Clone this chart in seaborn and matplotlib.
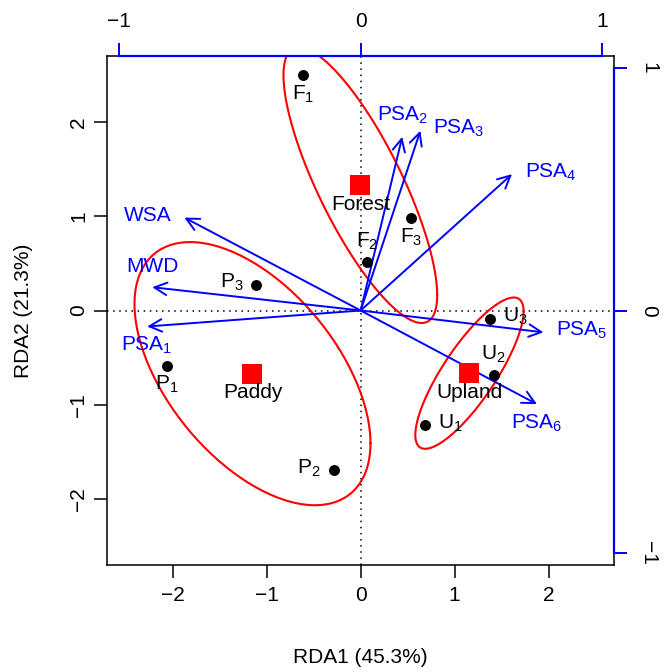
import numpy as np
import pandas as pd
import matplotlib
matplotlib.use("Agg")
import matplotlib.pyplot as plt
import seaborn as sns

# Site scores (RDA1, RDA2)
sites = ["F1", "F2", "F3", "P1", "P2", "P3", "U1", "U2", "U3"]
rda1 = [-0.613, 0.064, 0.539, -2.060, -0.284, -1.110, 0.688, 1.415, 1.372]
rda2 = [2.495, 0.516, 0.979, -0.586, -1.697, 0.273, -1.220, -0.689, -0.085]
land_use = ["Forest"] * 3 + ["Paddy"] * 3 + ["Upland"] * 3

# Biplot arrows (top / right axis units)
env_vars = ["PSA1", "PSA2", "PSA3", "PSA4", "PSA5", "PSA6", "WSA", "MWD"]
env_rda1 = [-0.883, 0.172, 0.247, 0.626, 0.756, 0.729, -0.729, -0.862]
env_rda2 = [-0.066, 0.716, 0.741, 0.562, -0.090, -0.386, 0.383, 0.096]

x_ticks = [-2, -1, 0, 1, 2]
arrow_ticks = [-1, 0, 1]
ARROW_MUL = 2.574   # arrow axis -> site axis
LIM = 2.7
FS = 15

# where the label sits relative to its point (R text pos)
site_pos = {"F1": "below", "F2": "above", "F3": "below", "P1": "below", "P2": "left",
            "P3": "left", "U1": "right", "U2": "above", "U3": "right"}
env_pos = {"PSA1": "below", "PSA2": "above", "PSA3": "right", "PSA4": "right",
           "PSA5": "right", "PSA6": "below", "WSA": "left", "MWD": "above"}
OFFS = {"below": ((0, -19), "center", "center"), "above": ((0, 21), "center", "center"),
        "left": ((-13, 2), "right", "center"), "right": ((13, 2), "left", "center")}


def sub(name):
    if name[-1].isdigit():
        return f"{name[:-1]}$_{name[-1]}$"
    return name


sns.set_theme(style="ticks")
plt.rcParams["font.family"] = ["Liberation Sans", "DejaVu Sans"]
plt.rcParams["mathtext.fontset"] = "custom"
plt.rcParams["mathtext.rm"] = "Liberation Sans"
plt.rcParams["mathtext.default"] = "regular"
for k in ["text.color", "axes.labelcolor", "xtick.color", "ytick.color", "axes.edgecolor"]:
    plt.rcParams[k] = "black"

df = pd.DataFrame({"site": sites, "RDA1": rda1, "RDA2": rda2, "group": land_use})
cent = df.groupby("group")[["RDA1", "RDA2"]].mean().reset_index()

fig = plt.figure(figsize=(6.71, 6.72), dpi=100)
ax = fig.add_axes([107 / 671, 107 / 672, 507.3 / 671, 509 / 672])
ax.set_xlim(-LIM, LIM)
ax.set_ylim(-LIM, LIM)

ax.axhline(0, color="black", ls=(0, (1, 3)), lw=1.1, zorder=1)
ax.axvline(0, color="black", ls=(0, (1, 3)), lw=1.1, zorder=1)

# 95% confidence ellipses of group centroids (standard error)
t = np.sqrt(-2 * np.log(0.05))
theta = np.linspace(0, 2 * np.pi, 200)
for g, sub_df in df.groupby("group"):
    pts = sub_df[["RDA1", "RDA2"]].to_numpy()
    cov = np.cov(pts.T) / len(pts)
    L = np.linalg.cholesky(cov)
    circ = np.vstack([np.cos(theta), np.sin(theta)])
    ell = pts.mean(axis=0)[:, None] + t * L @ circ
    ax.plot(ell[0], ell[1], color="red", lw=1.5, zorder=2)

# arrows
for name, ex, ey in zip(env_vars, env_rda1, env_rda2):
    tip = (ex * ARROW_MUL, ey * ARROW_MUL)
    ax.annotate("", xy=tip, xytext=(0, 0),
                arrowprops=dict(arrowstyle="->,head_length=0.9,head_width=0.45",
                                color="blue", lw=1.4, shrinkA=0, shrinkB=0,
                                mutation_scale=10), zorder=3)
    off, ha, va = OFFS[env_pos[name]]
    ax.annotate(sub(name), xy=tip, xytext=off, textcoords="offset pixels",
                ha=ha, va=va, color="blue", fontsize=FS, zorder=5)

sns.scatterplot(data=df, x="RDA1", y="RDA2", color="black", s=62, linewidth=0,
                ax=ax, zorder=4, legend=False)
sns.scatterplot(data=cent, x="RDA1", y="RDA2", color="red", marker="s", s=207,
                linewidth=0, ax=ax, zorder=4, legend=False)

for _, r in df.iterrows():
    off, ha, va = OFFS[site_pos[r["site"]]]
    ax.annotate(sub(r["site"]), xy=(r["RDA1"], r["RDA2"]), xytext=off,
                textcoords="offset pixels", ha=ha, va=va, fontsize=FS, zorder=5)
for _, r in cent.iterrows():
    ax.annotate(r["group"], xy=(r["RDA1"], r["RDA2"]), xytext=(0, -19),
                textcoords="offset pixels", ha="center", va="center", fontsize=FS, zorder=5)

ax.set_xticks(x_ticks)
ax.set_yticks(x_ticks)
ax.tick_params(length=9.4, width=1.1, labelsize=FS, color="black")
ax.tick_params(axis="x", pad=5.5)
ax.tick_params(axis="y", pad=4)
for lab in ax.get_yticklabels():
    lab.set_rotation(90)
    lab.set_va("center")
for s in ax.spines.values():
    s.set_visible(True)
    s.set_linewidth(1.1)
    s.set_color("black")
ax.set_xlabel("RDA1 (45.3%)", fontsize=FS, labelpad=31)
ax.set_ylabel("RDA2 (21.3%)", fontsize=FS, labelpad=26)

# blue axes for the arrows
top = ax.secondary_xaxis("top", functions=(lambda v: v / ARROW_MUL, lambda v: v * ARROW_MUL))
right = ax.secondary_yaxis("right", functions=(lambda v: v / ARROW_MUL, lambda v: v * ARROW_MUL))
for sec, side in [(top, "top"), (right, "right")]:
    sec.set_zorder(10)
    sec.set_ticks(arrow_ticks)
    sec.tick_params(length=9.4, width=1.4, color="blue", labelcolor="black",
                    labelsize=FS, pad=8.3)
    sec.spines[side].set_color("blue")
    sec.spines[side].set_linewidth(1.6)
    sec.spines[side].set_bounds(-1, 1)
for lab in right.get_yticklabels():
    lab.set_rotation(270)
    lab.set_va("center")

fig.savefig("out.png", dpi=100)
